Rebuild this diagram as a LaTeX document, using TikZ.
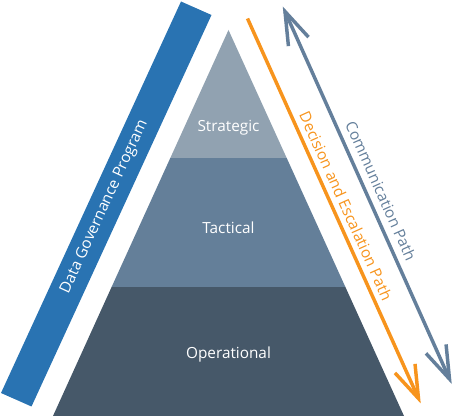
\documentclass[tikz,border=0pt]{standalone}
\usepackage{fontspec}
\setmainfont{Open Sans}
\usepackage{tikz}

\definecolor{govblue}{RGB}{41,115,178}
\definecolor{stratgrey}{RGB}{145,162,177}
\definecolor{tactgrey}{RGB}{100,127,153}
\definecolor{operslate}{RGB}{70,88,105}
\definecolor{escorange}{RGB}{247,148,29}
\definecolor{commgrey}{RGB}{100,127,155}

\tikzset{
  lvltext/.style={text=white,font=\fontsize{11.5}{14}\selectfont,anchor=base},
  pathlabel/.style={font=\fontsize{11.5}{14}\selectfont,rotate=-65.8},
  pathline/.style={line width=2.6pt},
}

\begin{document}
\begin{tikzpicture}[x=0.75pt,y=0.75pt,yscale=-1,xscale=1]
			\useasboundingbox (0,0) rectangle (454,416);

			%Shape: Parallelogram (program bar)
			\fill [govblue] (181,1.5) -- (211.5,15) -- (31.5,406.5) -- (1,393) -- cycle ;
			\node [text=white,font=\fontsize{11.5}{14}\selectfont,rotate=65.3] (prog) at (104.5,207) {Data Governance Program};

			%Shape: Trapezoid (operational)
			\fill [operslate] (111.6,287) -- (345.4,287) -- (404,416) -- (53,416) -- cycle ;
			%Shape: Trapezoid (tactical)
			\fill [tactgrey] (170.3,158) -- (286.7,158) -- (345.4,287) -- (111.6,287) -- cycle ;
			%Shape: Triangle (strategic)
			\fill [stratgrey] (228.5,30) -- (286.7,158) -- (170.3,158) -- cycle ;

			\node [lvltext] (strat) at (228.5,132) {Strategic};
			\node [lvltext] (tact) at (228.5,234) {Tactical};
			\node [lvltext] (oper) at (228.5,358.5) {Operational};

			%Straight Lines (decision and escalation)
			\coordinate (escTop) at (247.5,18.5);
			\coordinate (escTip) at (418.5,398.5);
			\draw [escorange,pathline] (escTop) -- (escTip) ;
			\draw [escorange,pathline,shift={(escTip)},rotate=245.8] (33,-11) -- (0,0) -- (33,11) ;
			\node [pathlabel,text=escorange] (esc) at (346,206) {Decision and Escalation Path};

			%Straight Lines (communication)
			\coordinate (commTop) at (285,11.5);
			\coordinate (commTip) at (449.5,379);
			\draw [commgrey,pathline] (commTop) -- (commTip) ;
			\draw [commgrey,pathline,shift={(commTip)},rotate=245.9] (33,-11) -- (0,0) -- (33,11) ;
			\draw [commgrey,pathline,shift={(commTop)},rotate=65.9] (33,-11) -- (0,0) -- (33,11) ;
			\node [pathlabel,text=commgrey] (comm) at (381,191) {Communication Path};

\end{tikzpicture}
\end{document}
